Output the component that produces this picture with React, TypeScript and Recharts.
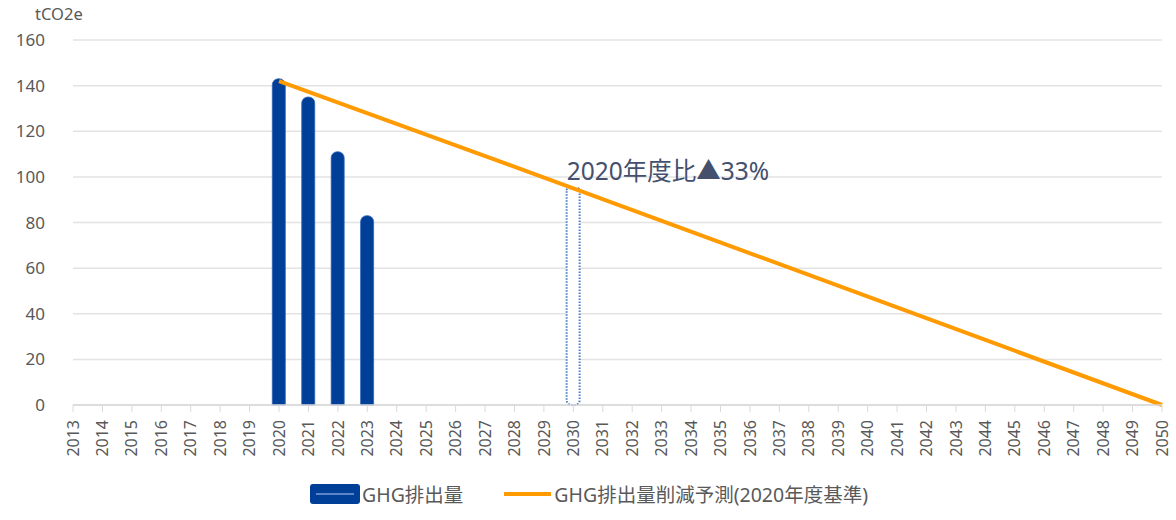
import React from 'react';
import { ComposedChart, Bar, Line, XAxis, YAxis, CartesianGrid, Label } from 'recharts';

const years = [
  2013, 2014, 2015, 2016, 2017, 2018, 2019, 2020, 2021, 2022, 2023, 2024, 2025,
  2026, 2027, 2028, 2029, 2030, 2031, 2032, 2033, 2034, 2035, 2036, 2037, 2038,
  2039, 2040, 2041, 2042, 2043, 2044, 2045, 2046, 2047, 2048, 2049, 2050,
];

// GHG排出量 (actual)
const ghgYears = [2020, 2021, 2022, 2023];
const ghgValues = [143, 135, 111, 83];

// 削減予測 line (straight line read at its visible points)
const forecastYears = [2020, 2030, 2050];
const forecastValues = [142, 95, 0];

// 2030 target (dotted box)
const targetYears = [2030];
const targetValues = [95];

const yTicks = [0, 20, 40, 60, 80, 100, 120, 140, 160];
const annotation = '2020年度比▲33%';

const FONT = "'Noto Sans', 'Noto Sans CJK JP', sans-serif";
const TEXT_GRAY = '#595959';
const BLUE = '#003f98';
const ORANGE = '#ff9a00';

const pick = (ys: number[], vs: number[], y: number) => {
  const i = ys.indexOf(y);
  return i >= 0 ? vs[i] : null;
};

const data = years.map((year) => ({
  year,
  ghg: pick(ghgYears, ghgValues, year),
  target: pick(targetYears, targetValues, year),
  forecast: pick(forecastYears, forecastValues, year),
}));

const YearTick = ({ x, y, payload }: any) => (
  <g transform={`translate(${x},${y})`}>
    <text
      transform="rotate(-90)"
      x={-6}
      y={0}
      dy="0.35em"
      textAnchor="end"
      fill={TEXT_GRAY}
      fontSize={16}
      fontFamily={FONT}
    >
      {payload.value}
    </text>
  </g>
);

const TargetLabel = ({ x, y, value }: any) => {
  if (value == null) return null;
  return (
    <text x={x} y={y - 8} fill="#44506e" fontSize={24.5} fontFamily={FONT}>
      {annotation}
    </text>
  );
};

export default function App() {
  return (
    <div style={{ position: 'absolute', left: 0, top: 0, width: 1176, height: 520, background: '#fff' }}>
      <ComposedChart
        width={1176}
        height={520}
        data={data}
        margin={{ top: 40, right: 14, left: 0, bottom: 0 }}
      >
        <CartesianGrid vertical={false} stroke="#e3e3e3" strokeWidth={1.5} />
        <XAxis
          dataKey="year"
          type="number"
          domain={[2013, 2050]}
          ticks={years}
          interval={0}
          height={115}
          tick={<YearTick />}
          tickSize={7}
          tickLine={{ stroke: '#d9d9d9' }}
          axisLine={{ stroke: '#d9d9d9', strokeWidth: 1.5 }}
        />
        <YAxis
          width={73}
          domain={[0, 160]}
          ticks={yTicks}
          axisLine={false}
          tickLine={false}
          tickSize={0}
          tickMargin={28}
          tick={{ fill: TEXT_GRAY, fontSize: 17, fontFamily: FONT }}
        >
          <Label
            content={() => (
              <text x={35} y={20} fill={TEXT_GRAY} fontSize={16.5} fontFamily={FONT}>
                tCO2e
              </text>
            )}
          />
        </YAxis>
        <Bar
          dataKey="ghg"
          stackId="s"
          barSize={13}
          fill={BLUE}
          stroke="#2f63b5"
          strokeWidth={0.8}
          radius={[6, 6, 0, 0]}
          isAnimationActive={false}
        />
        <Bar
          dataKey="target"
          stackId="s"
          barSize={13}
          fill="#ffffff"
          stroke="#4a7cc8"
          strokeWidth={2}
          strokeDasharray="1.5 1.5"
          radius={[2, 2, 5, 5]}
          label={<TargetLabel />}
          isAnimationActive={false}
        />
        <Line
          dataKey="forecast"
          type="linear"
          stroke={ORANGE}
          strokeWidth={4}
          dot={false}
          activeDot={false}
          connectNulls
          isAnimationActive={false}
        />
      </ComposedChart>
      <div
        style={{
          position: 'absolute',
          top: 479,
          left: 310,
          display: 'flex',
          alignItems: 'center',
          fontFamily: FONT,
          fontSize: 19.5,
          color: TEXT_GRAY,
          whiteSpace: 'nowrap',
        }}
      >
        <span
          style={{
            display: 'inline-block',
            width: 50,
            height: 20,
            background: BLUE,
            borderRadius: 3,
            position: 'relative',
            marginRight: 2,
          }}
        >
          <span
            style={{
              position: 'absolute',
              left: 6,
              right: 6,
              top: 9,
              height: 2,
              background: '#5c86c8',
            }}
          />
        </span>
        <span>GHG排出量</span>
        <span
          style={{
            display: 'inline-block',
            width: 47,
            height: 4,
            background: ORANGE,
            marginLeft: 41,
            marginRight: 3,
          }}
        />
        <span>GHG排出量削減予測(2020年度基準)</span>
      </div>
    </div>
  );
}
